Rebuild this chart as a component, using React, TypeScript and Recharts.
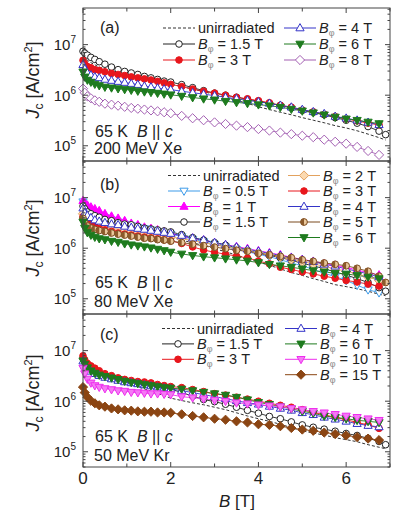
import React from "react";
import { LineChart, Line, XAxis, YAxis } from "recharts";

const FONT = '"Liberation Sans", Arial, Helvetica, sans-serif';
const INK = "#222";
const FRAME = "#444";

// applied field B [T], shared by all curves
const B = [0, 0.04, 0.1, 0.18, 0.27, 0.37, 0.5, 0.65, 0.8, 0.95, 1.1, 1.25, 1.4, 1.55, 1.7, 1.85, 2.0,
  2.25, 2.5, 2.75, 3.0, 3.25, 3.5, 3.75, 4.0, 4.25, 4.5, 4.75, 5.0, 5.25, 5.5, 5.75, 6.0, 6.25, 6.5, 6.75, 6.9];

// Jc values in units of 1e5 A/cm2
// (a) 200 MeV Xe
const A_UNIRR = [60, 54, 49, 44, 40, 36, 33, 30, 27.5, 25.5, 24, 22.5, 21, 19.8, 18.6, 17.5, 16.5, 14.8, 13.2, 11.8, 10.3, 9.1, 7.9, 6.9, 5.9, 5.2, 4.6, 4.1, 3.6, 3.2, 2.85, 2.5, 2.25, 1.98, 1.7, 1.45, 1.3];
const A_1P5 = [74, 68, 62, 56, 51, 46, 41, 36, 32, 29.5, 27.5, 25.7, 23.5, 22, 20.5, 19, 18.2, 16.2, 14.1, 12.3, 11, 10, 9.1, 8.3, 7.6, 6.9, 6.3, 5.6, 5.0, 4.6, 4.1, 3.6, 3.2, 2.8, 2.4, 1.95, 1.66];
const A_3 = [49, 42, 37, 35, 32, 31, 29, 27, 25.7, 24.5, 23, 22, 21, 20, 18.8, 17.5, 16.4, 14.8, 13.2, 12, 11, 10, 9.1, 8.5, 7.8, 7.1, 6.3, 5.8, 5.1, 4.7, 4.2, 3.8, 3.4, 3.1, 2.8, 2.6];
const A_4 = [40, 33, 27.5, 25, 23, 22, 20.5, 19.5, 18.6, 17.8, 17, 16.2, 15.1, 14.5, 13.8, 13.2, 12.9, 12, 11.2, 10.5, 9.8, 9.1, 8.5, 7.9, 7.4, 6.9, 6.3, 5.8, 5.2, 4.7, 4.3, 3.8, 3.5, 3.2, 2.9, 2.6];
const A_6 = [29, 23, 20, 18.2, 16.6, 15.5, 14.5, 14, 13.5, 13, 12.6, 12.1, 11.7, 11.4, 11.0, 10.6, 10.2, 9.6, 9.0, 8.5, 8.1, 7.6, 7.2, 6.9, 6.5, 6.2, 5.8, 5.3, 4.9, 4.5, 4.1, 3.7, 3.4, 3.2, 2.95, 2.75];
const A_8 = [13.5, 11.2, 9.5, 8.7, 7.9, 7.4, 6.8, 6.5, 6.2, 5.9, 5.6, 5.4, 5.2, 5.0, 4.8, 4.6, 4.4, 3.9, 3.5, 3.2, 2.9, 2.7, 2.5, 2.34, 2.14, 2.0, 1.82, 1.7, 1.58, 1.48, 1.32, 1.2, 1.1, 0.95, 0.79, 0.66];

// (b) 80 MeV Xe
const B_UNIRR = [63, 56, 50, 45, 41, 37, 33.5, 30.5, 28, 26, 24, 22.5, 21, 19.8, 18.6, 17.5, 16.5, 14.4, 12.8, 11.3, 9.8, 8.5, 7.3, 6.2, 5.3, 4.6, 3.9, 3.3, 2.9, 2.5, 2.2, 1.9, 1.74, 1.58, 1.41, 1.23, 1.15];
const B_0P5 = [83, 69, 60, 54, 49, 45, 40, 36, 33, 30, 28, 26, 24.5, 23, 21.4, 20, 19, 17, 15.1, 13.5, 12, 10.7, 9.5, 8.5, 7.6, 6.8, 5.9, 5.1, 4.5, 3.8, 3.2, 2.75, 2.3, 1.86, 1.51, 1.32];
const B_1 = [87, 79, 71, 65, 60, 55, 48, 43, 39, 35, 31, 29, 26, 24.5, 23, 21.4, 20, 17.4, 15.8, 14.5, 12.9, 11.7, 10.7, 9.8, 8.9, 8.1, 7.4, 6.6, 6.0, 5.5, 5.0, 4.6, 4.2, 3.7, 3.3, 2.95];
const B_1P5 = [68, 60, 52, 48, 44, 41, 37, 35, 32, 30, 29, 27, 25, 24, 23, 22, 21, 18.6, 16.2, 14.5, 12.9, 11.5, 10.2, 9.1, 8.1, 7.2, 6.5, 5.8, 5.0, 4.5, 3.9, 3.4, 2.95, 2.5, 2.1, 1.66, 1.41];
const B_2 = [48, 42, 37, 35, 32, 30, 29, 27, 25, 23.5, 22, 21, 20, 19, 18.2, 17.4, 16.6, 15.5, 14.1, 12.9, 11.7, 10.7, 9.8, 8.9, 8.1, 7.4, 6.8, 6.0, 5.5, 4.9, 4.4, 3.9, 3.5, 3.1, 2.7, 2.3];
const B_3 = [42, 36, 32, 29.5, 27, 24.5, 23, 21.4, 20, 19, 18.2, 17.4, 16.6, 16.0, 15.3, 14.6, 14.0, 12.4, 10.6, 9.2, 8.3, 7.6, 7.0, 6.4, 5.6, 4.9, 4.2, 3.8, 3.4, 3.1, 2.8, 2.55, 2.3, 2.14, 1.95, 1.78];
const B_4 = [62, 50, 44, 40, 36, 34, 32, 30, 29, 27, 25.7, 24.5, 23.5, 22.4, 21.4, 20.4, 19.5, 17.8, 15.8, 14.5, 12.9, 11.7, 10.5, 9.5, 8.7, 7.9, 7.2, 6.5, 5.9, 5.4, 4.8, 4.4, 3.9, 3.5, 3.1, 2.7];
const B_5 = [39, 32, 27.5, 25, 23.5, 22.4, 21.4, 20, 19, 18.2, 17.4, 16.6, 15.8, 15.5, 14.8, 14.5, 13.8, 12.9, 12, 11.2, 10.5, 9.8, 9.1, 8.7, 7.9, 7.4, 6.9, 6.5, 5.9, 5.5, 5.1, 4.8, 4.5, 4.0, 3.5, 2.8, 2.1];
const B_6 = [33, 25, 20.4, 18.2, 16.6, 15.5, 14.8, 13.8, 13.2, 12.3, 11.7, 11.2, 10.7, 10.2, 9.6, 9.0, 8.4, 7.7, 7.2, 6.8, 6.5, 6.2, 5.9, 5.6, 5.2, 4.8, 4.5, 4.2, 3.9, 3.6, 3.4, 3.2, 3.1, 2.9, 2.7, 2.5];

// (c) 50 MeV Kr
const C_UNIRR = [65, 54, 46, 40, 35.5, 32, 29.5, 27, 25, 23, 21, 19.2, 17.5, 15.8, 14.2, 12.8, 11.5, 10.3, 9.3, 8.5, 7.6, 6.8, 5.9, 5.1, 4.5, 4.0, 3.5, 3.0, 2.6, 2.34, 2.14, 1.9, 1.74, 1.58, 1.38, 1.23, 1.15];
const C_1P5 = [71, 59, 50, 44, 39, 35, 32, 29.5, 27.5, 25.7, 24.5, 23.5, 22.4, 21, 20, 18.6, 17.4, 14.8, 12.6, 10.8, 9.8, 8.7, 7.6, 6.6, 5.8, 5.0, 4.5, 3.9, 3.4, 3.05, 2.8, 2.55, 2.3, 2.1, 1.85, 1.6, 1.38];
const C_3 = [79, 66, 56, 50, 45, 40, 35, 32, 29, 27, 25.7, 24.5, 24, 23, 21.4, 20.4, 19.5, 18.6, 17, 15.5, 14.1, 13.2, 12, 11, 10, 9.1, 8.3, 7.6, 6.8, 6.0, 5.4, 4.8, 4.3, 3.8, 3.4, 2.9];
const C_4 = [62, 51, 44, 39, 35, 32, 29.5, 27.5, 25.7, 24, 23, 22, 21, 20, 19, 18.2, 17.4, 16.2, 14.8, 13.5, 12.3, 11.2, 10.2, 9.3, 8.7, 7.9, 7.2, 6.6, 5.9, 5.4, 4.8, 4.4, 4.0, 3.6, 3.3, 3.1];
const C_6 = [63, 54, 46, 40, 36, 33, 31, 29, 27, 25, 23.5, 22.4, 21.4, 20.4, 19.5, 18.6, 18.2, 17.4, 16.2, 15.1, 14.1, 13.2, 12, 10.7, 9.5, 8.7, 7.8, 7.1, 6.3, 5.8, 5.1, 4.8, 4.5, 4.2, 4.0, 3.8];
const C_10 = [45, 35, 27.5, 23, 20.4, 19, 17.8, 17, 16.2, 15.8, 15.1, 14.8, 14.5, 14.1, 14.1, 13.8, 13.5, 12.3, 11.7, 11.2, 10.5, 10, 9.3, 8.9, 8.5, 8.1, 7.8, 7.2, 6.8, 6.3, 5.9, 5.5, 5.1, 4.8, 4.5, 4.2];
const C_15 = [19, 14.8, 12, 10.2, 9.1, 8.3, 7.8, 7.2, 6.9, 6.6, 6.5, 6.3, 6.2, 6.2, 6.0, 6.0, 5.9, 5.5, 5.1, 4.8, 4.5, 4.3, 4.0, 3.8, 3.5, 3.4, 3.2, 2.95, 2.75, 2.6, 2.4, 2.24, 2.1, 1.95, 1.82, 1.7];

const X_TICKS = [0, 1, 2, 3, 4, 5, 6, 7];
const Y_DOMAIN: [number, number] = [5e4, 5.3e7];
const Y_TICKS: number[] = [];
for (let e = 4; e <= 7; e++) {
  for (let m = 1; m <= 9; m++) {
    const v = m * 10 ** e;
    if (v >= Y_DOMAIN[0] && v <= Y_DOMAIN[1]) Y_TICKS.push(v);
  }
}

// plot box
const PL = 83;
const PR = 390;
const PH = 153;

type Series = {
  field?: string;
  values: number[];
  color: string;
  fill?: string;
  marker?: string;
  dashed?: boolean;
};

const RED = "#e8161c";
const GREEN = "#1e7b1e";
const BLUE = "#3434c8";

const PANEL_A: Series[] = [
  { values: A_UNIRR, color: "#333", dashed: true },
  { field: "1.5", values: A_1P5, color: "#222", fill: "#fff", marker: "circle" },
  { field: "3", values: A_3, color: RED, fill: RED, marker: "circle" },
  { field: "4", values: A_4, color: BLUE, fill: "#fff", marker: "triUp" },
  { field: "6", values: A_6, color: GREEN, fill: GREEN, marker: "triDown" },
  { field: "8", values: A_8, color: "#a35fb2", fill: "#fff", marker: "diamond" },
];

const PANEL_B: Series[] = [
  { values: B_UNIRR, color: "#333", dashed: true },
  { field: "0.5", values: B_0P5, color: "#3d9be9", fill: "#fff", marker: "triDown" },
  { field: "1", values: B_1, color: "#ff00ff", fill: "#ff00ff", marker: "triUp" },
  { field: "1.5", values: B_1P5, color: "#222", fill: "#fff", marker: "circle" },
  { field: "2", values: B_2, color: "#e3a25e", fill: "#fbd9b0", marker: "diamond" },
  { field: "3", values: B_3, color: RED, fill: RED, marker: "circle" },
  { field: "4", values: B_4, color: BLUE, fill: "#fff", marker: "triUp" },
  { field: "5", values: B_5, color: "#7b4a1e", fill: "#e9c79b", marker: "half" },
  { field: "6", values: B_6, color: GREEN, fill: GREEN, marker: "triDown" },
];

const PANEL_C: Series[] = [
  { values: C_UNIRR, color: "#333", dashed: true },
  { field: "1.5", values: C_1P5, color: "#222", fill: "#fff", marker: "circle" },
  { field: "3", values: C_3, color: RED, fill: RED, marker: "circle" },
  { field: "4", values: C_4, color: BLUE, fill: "#fff", marker: "triUp" },
  { field: "6", values: C_6, color: GREEN, fill: GREEN, marker: "triDown" },
  { field: "10", values: C_10, color: "#ee2cee", fill: "#f47af4", marker: "triDown" },
  { field: "15", values: C_15, color: "#8b4513", fill: "#8b4513", marker: "diamond" },
];

const Marker = ({ kind, x, y, color, fill }: { kind: string; x: number; y: number; color: string; fill: string }) => {
  if (kind === "circle") return <circle cx={x} cy={y} r={3.3} fill={fill} stroke={color} strokeWidth={1} />;
  if (kind === "triUp")
    return <polygon points={`${x},${y - 4.4} ${x + 4.1},${y + 2.8} ${x - 4.1},${y + 2.8}`} fill={fill} stroke={color} strokeWidth={1} />;
  if (kind === "triDown")
    return <polygon points={`${x - 4.1},${y - 2.8} ${x + 4.1},${y - 2.8} ${x},${y + 4.4}`} fill={fill} stroke={color} strokeWidth={1} />;
  if (kind === "diamond")
    return <polygon points={`${x},${y - 4.6} ${x + 4.6},${y} ${x},${y + 4.6} ${x - 4.6},${y}`} fill={fill} stroke={color} strokeWidth={1} />;
  // half filled circle
  return (
    <g>
      <circle cx={x} cy={y} r={3.4} fill={fill} stroke={color} strokeWidth={1} />
      <path d={`M${x},${y - 3.4} A3.4,3.4 0 0 0 ${x},${y + 3.4} Z`} fill="#8b5a2b" />
    </g>
  );
};

const renderYTick = (p: any) => {
  const v = p.payload.value;
  const lg = Math.log10(v);
  const major = Math.abs(lg - Math.round(lg)) < 1e-6;
  const len = major ? 5 : 2.5;
  const y = p.y;
  return (
    <g>
      <line x1={PL} x2={PL + len} y1={y} y2={y} stroke={FRAME} strokeWidth={1} />
      <line x1={PR - len} x2={PR} y1={y} y2={y} stroke={FRAME} strokeWidth={1} />
      {major && (
        <text x={PL - 7} y={y + 5.5} textAnchor="end" fontSize={15} fontFamily={FONT} fill={INK}>
          10<tspan dy={-7} fontSize={10}>{Math.round(lg)}</tspan>
        </text>
      )}
    </g>
  );
};

const makeXTick = (top: number, bottom: number, labels: boolean) => (p: any) => {
  const v = p.payload.value;
  const x = p.x;
  const major = v % 2 === 0;
  const len = major ? 5 : 3.5;
  return (
    <g>
      <line x1={x} x2={x} y1={bottom} y2={bottom - len} stroke={FRAME} strokeWidth={1} />
      <line x1={x} x2={x} y1={top} y2={top + len} stroke={FRAME} strokeWidth={1} />
      {labels && major && (
        <text x={x} y={bottom + 17} textAnchor="middle" fontSize={17} fontFamily={FONT} fill={INK}>
          {v}
        </text>
      )}
    </g>
  );
};

const Panel = ({ series, top, marginTop, showX }: { series: Series[]; top: number; marginTop: number; showX: boolean }) => {
  const data = B.map((b, i) => {
    const row: Record<string, number | null> = { B: b };
    series.forEach((s, k) => {
      const v = s.values[i];
      row["s" + k] = v == null ? null : v * 1e5;
    });
    return row;
  });
  const xH = showX ? 40 : 1;
  return (
    <div style={{ position: "absolute", left: 0, top }}>
      <LineChart width={393} height={marginTop + PH + xH} data={data} margin={{ top: marginTop, right: 393 - PR, bottom: 0, left: 0 }}>
        <XAxis
          dataKey="B"
          type="number"
          domain={[0, 7]}
          ticks={X_TICKS}
          interval={0}
          height={xH}
          axisLine={false}
          tickLine={false}
          tick={makeXTick(marginTop, marginTop + PH, showX)}
        />
        <YAxis
          type="number"
          scale="log"
          domain={Y_DOMAIN}
          allowDataOverflow
          ticks={Y_TICKS}
          interval={0}
          width={PL}
          axisLine={false}
          tickLine={false}
          tick={renderYTick}
        />
        {series.map((s, k) => (
          <Line
            key={k}
            dataKey={"s" + k}
            type="linear"
            stroke={s.color}
            strokeWidth={s.dashed ? 1 : 0.9}
            strokeDasharray={s.dashed ? "3 2" : undefined}
            dot={
              s.marker
                ? (p: any) =>
                    p.cy == null || p.value == null ? (
                      <g key={"d" + p.index} />
                    ) : (
                      <Marker key={"d" + p.index} kind={s.marker!} x={p.cx} y={p.cy} color={s.color} fill={s.fill!} />
                    )
                : false
            }
            activeDot={false}
            isAnimationActive={false}
          />
        ))}
      </LineChart>
    </div>
  );
};

const LegendItem = ({ s, x, y }: { s: Series; x: number; y: number }) => (
  <g>
    <line
      x1={x}
      x2={x + 32}
      y1={y}
      y2={y}
      stroke={s.dashed ? "#333" : s.color}
      strokeWidth={1}
      strokeDasharray={s.dashed ? "3 2" : undefined}
    />
    {s.marker && <Marker kind={s.marker} x={x + 16} y={y} color={s.color} fill={s.fill!} />}
    <text x={x + 35} y={y + 5} fontSize={14.5} fontFamily={FONT} fill={INK}>
      {s.dashed ? (
        "unirradiated"
      ) : (
        <>
          <tspan fontStyle="italic">B</tspan>
          <tspan dy={3} fontSize={9} fill="#888">φ</tspan>
          <tspan dy={-3}>{` = ${s.field} T`}</tspan>
        </>
      )}
    </text>
  </g>
);

const Legend2 = ({ series, split, y0, step, x1, x2 }: { series: Series[]; split: number; y0: number; step: number; x1: number; x2: number }) => (
  <g>
    {series.map((s, i) =>
      i < split ? (
        <LegendItem key={i} s={s} x={x1} y={y0 + i * step} />
      ) : (
        <LegendItem key={i} s={s} x={x2} y={y0 + (i - split) * step} />
      )
    )}
  </g>
);

const Note = ({ tag, top, l1y, l2y, beam }: { tag: string; top: number; l1y: number; l2y: number; beam: string }) => (
  <g fontFamily={FONT} fill={INK} fontSize={16}>
    <text x={100} y={top + 25}>{tag}</text>
    <text x={95} y={l1y}>
      65 K<tspan dx={9} fontStyle="italic">B</tspan>
      {" || "}
      <tspan fontStyle="italic">c</tspan>
    </text>
    <text x={94} y={l2y}>{beam}</text>
  </g>
);

const YTitle = ({ cy }: { cy: number }) => (
  <text x={39} y={cy} transform={`rotate(-90 39 ${cy})`} textAnchor="middle" fontSize={18} fontFamily={FONT} fill={INK}>
    <tspan fontStyle="italic">J</tspan>
    <tspan dy={4} fontSize={12}>c</tspan>
    <tspan dy={-4}> [A/cm</tspan>
    <tspan dy={-7} fontSize={11}>2</tspan>
    <tspan dy={7}>]</tspan>
  </text>
);

const TOPS = [8, 161, 314];

export default function App() {
  return (
    <div style={{ position: "absolute", left: 0, top: 0, width: 393, height: 512, background: "#fff", overflow: "hidden" }}>
      <Panel series={PANEL_A} top={0} marginTop={TOPS[0]} showX={false} />
      <Panel series={PANEL_B} top={TOPS[1]} marginTop={0} showX={false} />
      <Panel series={PANEL_C} top={TOPS[2]} marginTop={0} showX={true} />
      <svg width={393} height={512} style={{ position: "absolute", left: 0, top: 0, pointerEvents: "none" }}>
        {TOPS.map((t) => (
          <rect key={t} x={PL} y={t} width={PR - PL} height={PH} fill="none" stroke={FRAME} strokeWidth={1} />
        ))}
        <YTitle cy={80} />
        <YTitle cy={238} />
        <YTitle cy={393} />
        <Note tag="(a)" top={TOPS[0]} l1y={137} l2y={154} beam="200 MeV Xe" />
        <Note tag="(b)" top={TOPS[1] + 4} l1y={288} l2y={307} beam="80 MeV Xe" />
        <Note tag="(c)" top={TOPS[2] + 1} l1y={442} l2y={461} beam="50 MeV Kr" />
        <Legend2 series={PANEL_A} split={3} y0={28} step={16} x1={163} x2={284} />
        <Legend2 series={PANEL_B} split={4} y0={175.5} step={15.5} x1={168} x2={288} />
        <Legend2 series={PANEL_C} split={3} y0={328.5} step={15.4} x1={162} x2={285} />
        <text x={237} y={507} textAnchor="middle" fontSize={17} fontFamily={FONT} fill={INK}>
          <tspan fontStyle="italic">B</tspan> [T]
        </text>
      </svg>
    </div>
  );
}
